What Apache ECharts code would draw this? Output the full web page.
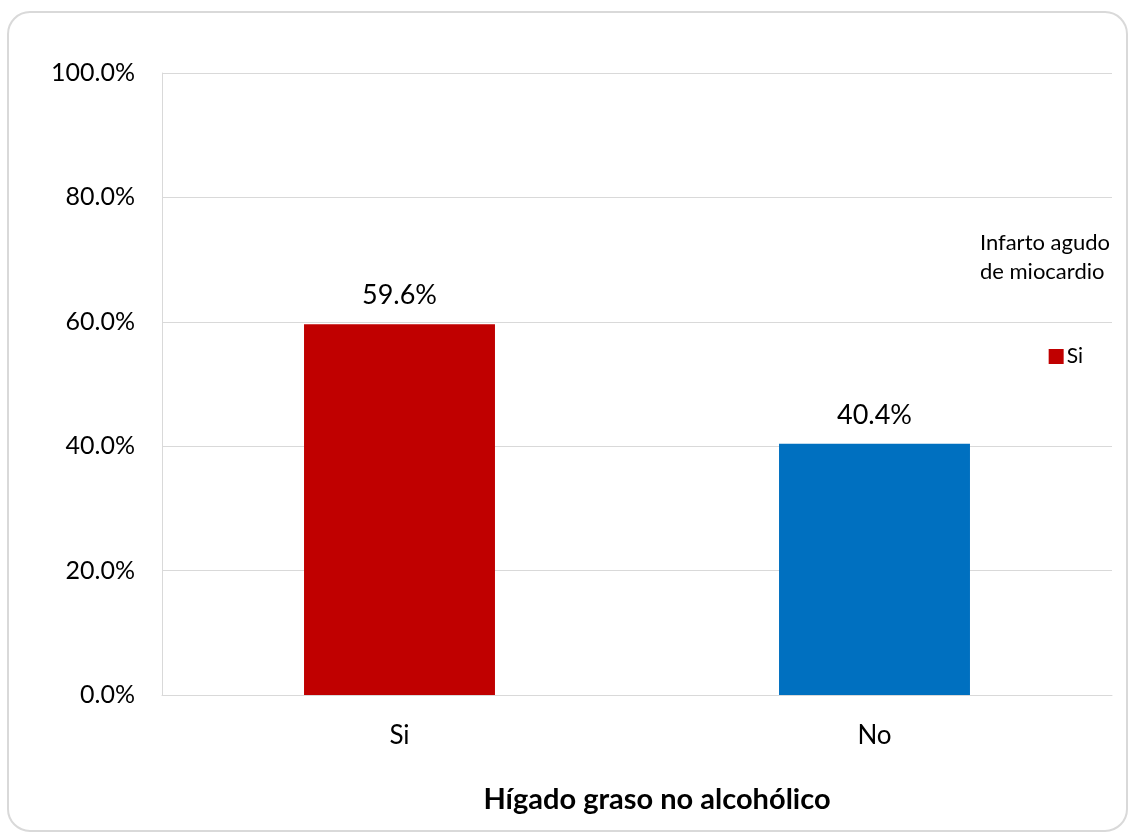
<!DOCTYPE html>
<html>
<head>
<meta charset="utf-8">
<script src="https://cdn.jsdelivr.net/npm/echarts@6/dist/echarts.min.js"></script>
<style>
  html, body { margin: 0; padding: 0; background: #fff; }
  #chart { width: 1130px; height: 840px; }
</style>
</head>
<body>
<div id="chart"></div>
<script>
// Hígado graso no alcohólico vs. infarto agudo de miocardio
const categories = ['Si', 'No'];
const percentages = [59.6, 40.4];
const barColors = ['#C00000', '#0070C0'];
const yTicks = { min: 0, max: 100, interval: 20 };

const FONT = 'Lato, "Open Sans", sans-serif';
const chart = echarts.init(document.getElementById('chart'));

chart.setOption({
  backgroundColor: '#ffffff',
  animation: false,
  textStyle: { fontFamily: FONT },
  graphic: [
    {
      type: 'rect',
      shape: { x: 8, y: 12, width: 1119, height: 819, r: 22 },
      style: { fill: 'none', stroke: '#d9d9d9', lineWidth: 2 },
      z: -1
    },
    {
      type: 'text',
      right: 20,
      top: 228,
      style: {
        text: 'Infarto agudo\nde miocardio',
        align: 'right',
        fontFamily: FONT,
        fontSize: 22,
        lineHeight: 29,
        fill: '#000'
      }
    }
  ],
  legend: {
    data: ['Si'],
    right: 42,
    top: 341,
    itemWidth: 15,
    itemHeight: 15,
    itemGap: 4,
    icon: 'rect',
    textStyle: { fontFamily: FONT, fontSize: 21, color: '#000', padding: [0, 0, 0, -2] },
    itemStyle: { color: barColors[0] }
  },
  grid: { left: 162, right: 18, top: 73, bottom: 145 },
  xAxis: {
    type: 'category',
    data: categories,
    axisTick: { show: false },
    axisLine: { show: true, lineStyle: { color: '#d9d9d9', width: 1 } },
    axisLabel: { color: '#000', fontSize: 26, margin: 28, fontFamily: FONT },
    name: 'Hígado graso no alcohólico',
    nameLocation: 'middle',
    nameGap: 90,
    nameTextStyle: {
      color: '#000',
      fontSize: 29,
      fontWeight: 'bold',
      fontFamily: FONT,
      padding: [0, 0, 0, 40]
    }
  },
  yAxis: {
    type: 'value',
    min: yTicks.min,
    max: yTicks.max,
    interval: yTicks.interval,
    axisLine: { show: true, lineStyle: { color: '#d9d9d9', width: 1 } },
    axisTick: { show: false },
    splitLine: { lineStyle: { color: '#d9d9d9', width: 1 } },
    axisLabel: {
      color: '#000',
      fontSize: 25,
      margin: 27,
      fontFamily: FONT,
      formatter: v => v.toFixed(1) + '%'
    }
  },
  series: [
    {
      name: 'Si',
      type: 'bar',
      barWidth: '40.2%',
      data: percentages.map((v, i) => ({ value: v, itemStyle: { color: barColors[i] } })),
      label: {
        show: true,
        position: 'top',
        distance: 15,
        color: '#000',
        fontSize: 27,
        fontFamily: FONT,
        formatter: p => p.value.toFixed(1) + '%'
      }
    }
  ]
});
</script>
</body>
</html>
